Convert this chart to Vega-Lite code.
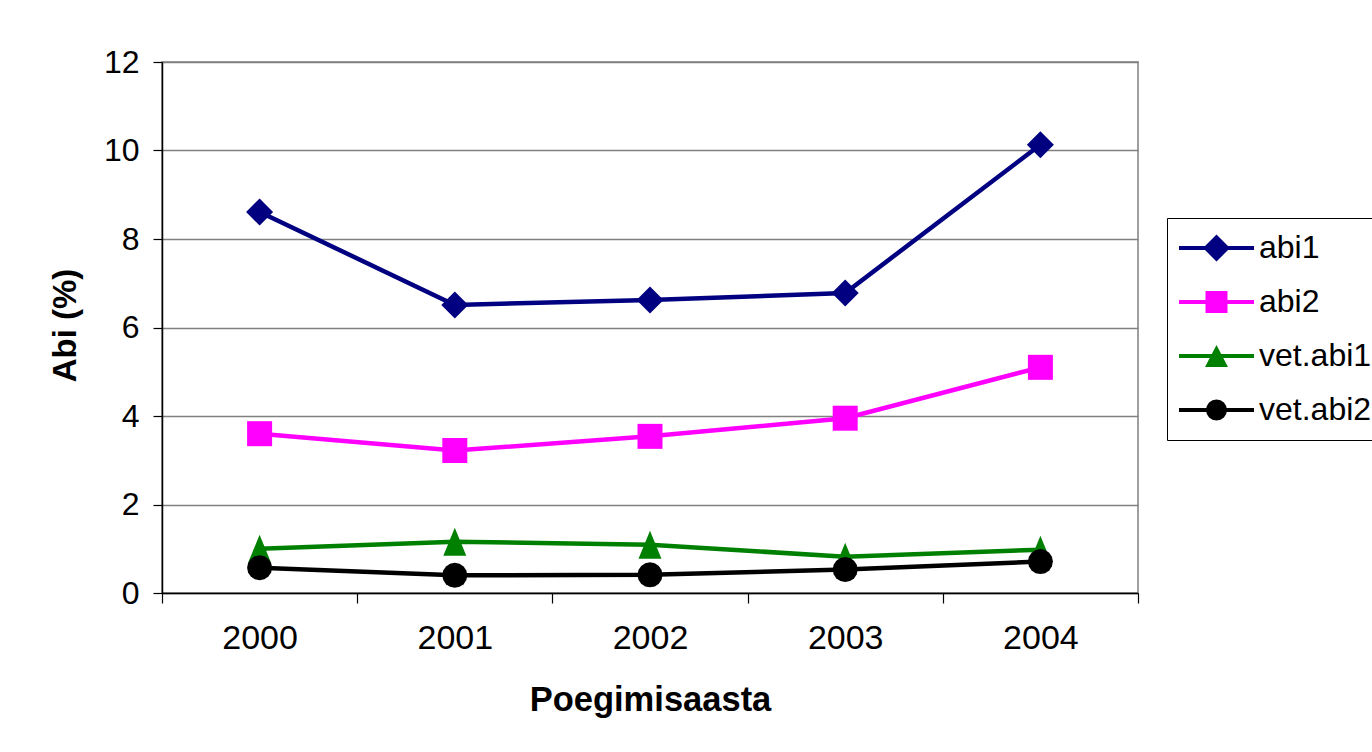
{
  "$schema": "https://vega.github.io/schema/vega-lite/v6.json",
  "width": 976,
  "height": 531,
  "autosize": {"type": "none"},
  "padding": {"left": 162, "top": 62, "right": 234, "bottom": 159},
  "background": "white",
  "config": {
    "font": "Liberation Sans",
    "view": {"stroke": "#808080", "strokeWidth": 1.5},
    "axis": {
      "labelFont": "Liberation Sans",
      "titleFont": "Liberation Sans",
      "labelColor": "black",
      "titleColor": "black",
      "domainColor": "black",
      "domainWidth": 1.5,
      "tickColor": "black",
      "tickWidth": 1.2,
      "labelFontSize": 32,
      "titleFontSize": 33,
      "titleFontWeight": "bold"
    }
  },
  "data": {
    "values": [
      {"year": "2000", "series": "abi1", "value": 8.61},
      {"year": "2001", "series": "abi1", "value": 6.51},
      {"year": "2002", "series": "abi1", "value": 6.62},
      {"year": "2003", "series": "abi1", "value": 6.78},
      {"year": "2004", "series": "abi1", "value": 10.13},
      {"year": "2000", "series": "abi2", "value": 3.6},
      {"year": "2001", "series": "abi2", "value": 3.22},
      {"year": "2002", "series": "abi2", "value": 3.54},
      {"year": "2003", "series": "abi2", "value": 3.95},
      {"year": "2004", "series": "abi2", "value": 5.1},
      {"year": "2000", "series": "vet.abi1", "value": 1.0},
      {"year": "2001", "series": "vet.abi1", "value": 1.16},
      {"year": "2002", "series": "vet.abi1", "value": 1.09},
      {"year": "2003", "series": "vet.abi1", "value": 0.82},
      {"year": "2004", "series": "vet.abi1", "value": 0.98},
      {"year": "2000", "series": "vet.abi2", "value": 0.57},
      {"year": "2001", "series": "vet.abi2", "value": 0.4},
      {"year": "2002", "series": "vet.abi2", "value": 0.41},
      {"year": "2003", "series": "vet.abi2", "value": 0.53},
      {"year": "2004", "series": "vet.abi2", "value": 0.71}
    ]
  },
  "encoding": {
    "x": {
      "field": "year",
      "type": "ordinal",
      "scale": {"type": "band", "paddingInner": 0, "paddingOuter": 0},
      "axis": {
        "title": "Poegimisaasta",
        "labelAngle": 0,
        "labelFontSize": 34,
        "titleFontSize": 34.5,
        "tickBand": "extent",
        "tickSize": 10,
        "labelPadding": 18,
        "grid": false,
        "titleY": 90,
        "titleBaseline": "top"
      }
    },
    "y": {
      "field": "value",
      "type": "quantitative",
      "scale": {"domain": [0, 12]},
      "axis": {
        "title": "Abi (%)",
        "values": [0, 2, 4, 6, 8, 10, 12],
        "tickSize": 9,
        "labelPadding": 14,
        "grid": true,
        "gridColor": "#808080",
        "gridWidth": 1.3,
        "titleX": -80,
        "titleY": 263,
        "titleBaseline": "bottom"
      }
    }
  },
  "layer": [
    {
      "mark": {"type": "line", "strokeWidth": 4.5},
      "encoding": {
        "color": {
          "field": "series",
          "type": "nominal",
          "scale": {"domain": ["abi1", "abi2", "vet.abi1", "vet.abi2"], "range": ["#000080", "#FF00FF", "#008000", "#000000"]},
          "legend": null
        }
      }
    },
    {
      "mark": {"type": "point", "filled": true, "opacity": 1, "size": 784, "strokeWidth": 0},
      "encoding": {
        "color": {
          "field": "series",
          "type": "nominal",
          "scale": {"domain": ["abi1", "abi2", "vet.abi1", "vet.abi2"], "range": ["#000080", "#FF00FF", "#008000", "#000000"]},
          "legend": null
        },
        "shape": {
          "field": "series",
          "type": "nominal",
          "scale": {
            "domain": ["abi1", "abi2", "vet.abi1", "vet.abi2"],
            "range": [
              "M0,-0.964L0.964,0L0,0.964L-0.964,0Z",
              "M-0.893,-0.893H0.893V0.893H-0.893Z",
              "M0,-1L0.82,1L-0.82,1Z",
              "M0.893,0L0.825,0.342L0.631,0.631L0.342,0.825L0,0.893L-0.342,0.825L-0.631,0.631L-0.825,0.342L-0.893,0L-0.825,-0.342L-0.631,-0.631L-0.342,-0.825L0,-0.893L0.342,-0.825L0.631,-0.631L0.825,-0.342Z"
            ]
          },
          "legend": null
        }
      }
    },
    {
      "mark": {"type": "point", "filled": true, "opacity": 0, "size": 100, "strokeWidth": 0},
      "encoding": {
        "color": {
          "field": "series",
          "type": "nominal",
          "scale": {"domain": ["abi1", "abi2", "vet.abi1", "vet.abi2"], "range": ["#000080", "#FF00FF", "#008000", "#000000"]},
          "legend": {
            "title": null,
            "orient": "none",
            "legendX": 1005,
            "legendY": 156,
            "strokeColor": "black",
            "fillColor": "white",
            "padding": 14,
            "labelFont": "Liberation Sans",
            "labelFontSize": 32,
            "labelColor": "black",
            "labelOffset": 26.5,
            "labelLimit": 500,
            "rowPadding": 22,
            "symbolSize": 100,
            "symbolOffset": 19.5,
            "symbolOpacity": 1,
            "symbolStrokeWidth": 0
          }
        },
        "shape": {
          "field": "series",
          "type": "nominal",
          "scale": {
            "domain": ["abi1", "abi2", "vet.abi1", "vet.abi2"],
            "range": [
              "M-7.5,-0.4H7.5V0.4H-7.5ZM0,-2.7L2.7,0L0,2.7L-2.7,0Z",
              "M-7.5,-0.4H7.5V0.4H-7.5ZM-2.2,-2.2H2.2V2.2H-2.2Z",
              "M-7.5,-0.4H7.5V0.4H-7.5ZM0,-2.2L2.3,2.2L-2.3,2.2Z",
              "M-7.5,-0.4H7.5V0.4H-7.5ZM2.1,0L1.94,0.804L1.485,1.485L0.804,1.94L0,2.1L-0.804,1.94L-1.485,1.485L-1.94,0.804L-2.1,0L-1.94,-0.804L-1.485,-1.485L-0.804,-1.94L0,-2.1L0.804,-1.94L1.485,-1.485L1.94,-0.804Z"
            ]
          },
          "legend": {
            "title": null,
            "orient": "none",
            "legendX": 1005,
            "legendY": 156,
            "strokeColor": "black",
            "fillColor": "white",
            "padding": 14,
            "labelFont": "Liberation Sans",
            "labelFontSize": 32,
            "labelColor": "black",
            "labelOffset": 26.5,
            "labelLimit": 500,
            "rowPadding": 22,
            "symbolSize": 100,
            "symbolOffset": 19.5,
            "symbolOpacity": 1,
            "symbolStrokeWidth": 0
          }
        }
      }
    }
  ],
  "resolve": {"scale": {"color": "independent", "shape": "independent"}}
}
